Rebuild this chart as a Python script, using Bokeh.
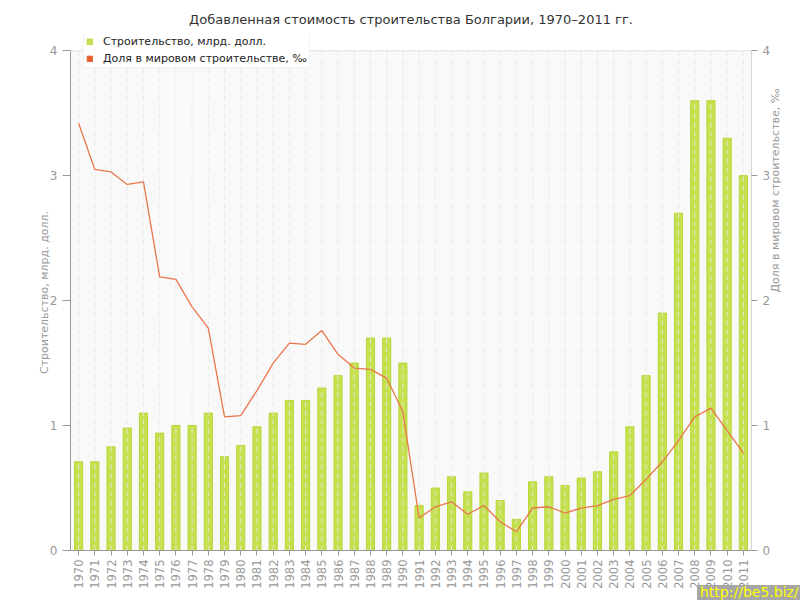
import numpy as np
from bokeh.plotting import figure
from bokeh.layouts import column
from bokeh.models import (Range1d, LinearAxis, FixedTicker, Legend, LegendItem,
                          Span, BoxAnnotation, Div)
from bokeh.embed import file_html
from bokeh.resources import INLINE

years = list(range(1970, 2012))
construction = [0.71, 0.71, 0.83, 0.98, 1.10, 0.94, 1.00, 1.00, 1.10, 0.75,
                0.84, 0.99, 1.10, 1.20, 1.20, 1.30, 1.40, 1.50, 1.70, 1.70,
                1.50, 0.36, 0.50, 0.59, 0.47, 0.62, 0.40, 0.25, 0.55, 0.59,
                0.52, 0.58, 0.63, 0.79, 0.99, 1.40, 1.90, 2.70, 3.60, 3.60,
                3.30, 3.00]
share = [3.42, 3.05, 3.03, 2.93, 2.95, 2.19, 2.17, 1.95, 1.78, 1.07,
         1.08, 1.28, 1.50, 1.66, 1.65, 1.76, 1.57, 1.46, 1.45, 1.38,
         1.11, 0.26, 0.35, 0.39, 0.29, 0.36, 0.23, 0.15, 0.34, 0.35,
         0.30, 0.34, 0.36, 0.41, 0.44, 0.57, 0.71, 0.88, 1.07, 1.14,
         0.96, 0.78]
y_ticks = [0, 1, 2, 3, 4]

title_text = "Добавленная стоимость строительства Болгарии, 1970–2011 гг."
label_bars = "Строительство, млрд. долл."
label_line = "Доля в мировом строительстве, ‰"
watermark = "http://be5.biz/"

FONT = "DejaVu Sans"
GREY = "#999999"
YMAX = y_ticks[-1]
YTOP = YMAX + 0.13   # headroom above the top tick so the legend is not clipped

p = figure(width=800, height=600, x_range=Range1d(1969.5, 2011.5),
           y_range=Range1d(0, YTOP), output_backend="svg", toolbar_location=None,
           background_fill_color="white", border_fill_color="white",
           min_border_left=70, min_border_right=49, min_border_top=34,
           min_border_bottom=50)
p.extra_y_ranges = {"share": Range1d(0, YTOP)}

p.title.text = title_text
p.title.text_font = FONT
p.title.text_font_size = "13px"
p.title.text_font_style = "normal"
p.title.text_color = "#333333"
p.title.align = "center"
p.title.offset = -10
p.title.standoff = 16

p.outline_line_color = None

# plot-area background below the top tick
p.add_layout(BoxAnnotation(top=YMAX, fill_color="#f9f9f9", fill_alpha=1.0,
                           line_color=None, level="underlay"))
p.add_layout(Span(location=YMAX, dimension="width", line_color="#e2e2e2",
                  line_width=1, level="underlay"))

# horizontal grid
p.xgrid.visible = False
p.ygrid.ticker = FixedTicker(ticks=y_ticks[1:-1])
p.ygrid.grid_line_color = "#e2e2e2"
p.ygrid.grid_line_dash = "5 4"

# bars
bars = p.vbar(x=years, top=construction, width=0.5, fill_color="#c6e14f",
              line_color="#b6d736", line_width=1)
# vertical dashed grid drawn over bars
p.segment(x0=years, y0=[y_ticks[0]] * len(years), x1=years, y1=[YMAX] * len(years),
          line_color="#e6e6e6", line_alpha=0.85, line_dash="5 4", line_width=1)
# line
p.line(years, share, y_range_name="share", line_color="#e8784b", line_width=1.3)

# x axis
xa = p.xaxis[0]
xa.ticker = FixedTicker(ticks=years)
xa.major_label_orientation = np.pi / 2
xa.major_label_text_font = FONT
xa.major_label_text_font_size = "11.5px"
xa.major_label_text_color = GREY
xa.axis_line_color = GREY
xa.major_tick_line_color = GREY
xa.major_tick_out = 5
xa.major_tick_in = 0
xa.minor_tick_line_color = None
xa.major_label_standoff = 4

# left axis
ya = p.yaxis[0]
ya.ticker = FixedTicker(ticks=y_ticks)
ya.bounds = (y_ticks[0], YMAX)
ya.axis_label = label_bars
ya.axis_label_text_font = FONT
ya.axis_label_text_font_size = "11px"
ya.axis_label_text_font_style = "normal"
ya.axis_label_text_color = GREY
ya.axis_label_standoff = -4
ya.major_label_text_font = FONT
ya.major_label_text_font_size = "12px"
ya.major_label_text_color = GREY
ya.axis_line_color = GREY
ya.major_tick_line_color = GREY
ya.major_tick_out = 8
ya.major_tick_in = 0
ya.minor_tick_line_color = None
ya.major_label_standoff = 5

# right axis
ra = LinearAxis(y_range_name="share", ticker=FixedTicker(ticks=y_ticks))
ra.bounds = (y_ticks[0], YMAX)
ra.axis_label = label_line
ra.axis_label_text_font = FONT
ra.axis_label_text_font_size = "11px"
ra.axis_label_text_font_style = "normal"
ra.axis_label_text_color = GREY
ra.axis_label_standoff = 2
ra.major_label_text_font = FONT
ra.major_label_text_font_size = "12px"
ra.major_label_text_color = GREY
ra.axis_line_color = "#d6d6d6"
ra.major_tick_line_color = GREY
ra.major_tick_out = 6
ra.major_tick_in = 0
ra.minor_tick_line_color = None
ra.major_label_standoff = 5
try:
    ra.axis_label_orientation = np.pi / 2
    ra.axis_label_text_align = "center"
except Exception:
    pass
p.add_layout(ra, "right")

# legend: orange swatch from a zero-height bar (draws nothing in the plot)
sw2 = p.vbar(x=[years[0]], top=[y_ticks[0]], width=0.5, fill_color="#e8602c",
             line_color="#e8602c")
legend = Legend(items=[LegendItem(label=label_bars, renderers=[bars]),
                       LegendItem(label=label_line, renderers=[sw2])],
                location=(13, 482), glyph_width=7, glyph_height=7,
                label_height=12, label_standoff=10, spacing=4, padding=2,
                margin=0, label_text_font=FONT, label_text_font_size="11px",
                label_text_color="#222222", background_fill_color="white",
                background_fill_alpha=1.0, border_line_color="#e6e6e6")
p.add_layout(legend)

wm = Div(text=('<div style="background:#a6a6a6;color:#ffff00;font-family:\'DejaVu Sans\';'
               'font-size:14px;line-height:15px;padding:0 3px;white-space:nowrap">'
               + watermark + '</div>'),
         width=103, height=15, margin=(-15, 0, 0, 697))

layout = column(p, wm, spacing=0)
open("out.html", "w").write(file_html(layout, INLINE))
